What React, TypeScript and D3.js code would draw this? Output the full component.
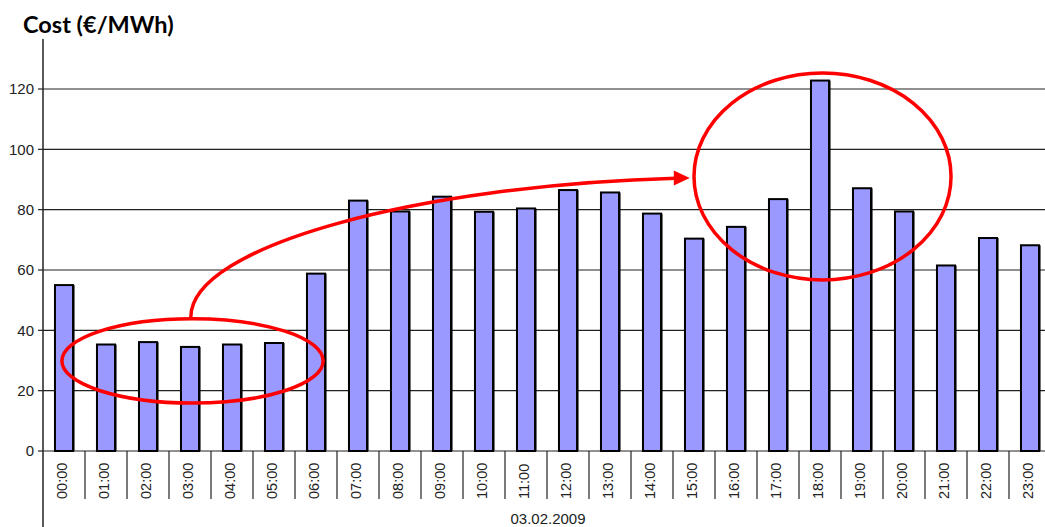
import React from "react";
import * as d3 from "d3";

const hours = [
  "00:00", "01:00", "02:00", "03:00", "04:00", "05:00", "06:00", "07:00",
  "08:00", "09:00", "10:00", "11:00", "12:00", "13:00", "14:00", "15:00",
  "16:00", "17:00", "18:00", "19:00", "20:00", "21:00", "22:00", "23:00",
];
const cost = [
  55.0, 35.3, 36.1, 34.5, 35.3, 35.8, 58.8, 83.0, 79.4, 84.3, 79.3, 80.4,
  86.5, 85.7, 78.7, 70.4, 74.3, 83.5, 122.8, 87.1, 79.4, 61.5, 70.6, 68.2,
];
const yTicks = [0, 20, 40, 60, 80, 100, 120];
const title = "Cost (€/MWh)";
const dateLabel = "03.02.2009";

// annotation shapes, in category-index / value units
const lowEllipse = { x0: 0.45, x1: 6.67, v0: 15.9, v1: 43.8 };
const peakEllipse = { x0: 15.5, x1: 21.62, v0: 56.7, v1: 125.3 };
const arrowPts = [
  [3.52, 44.4],
  [3.52, 68.2],
  [9.0, 88.1],
  [15.07, 90.4],
];
const arrowTip = [15.4, 90.5];

const W = 1045;
const H = 527;
const left = 43;
const right = 1051;
const zeroY = 451;
const topY = 89;

const App = () => {
  const x = d3.scaleBand().domain(hours).range([left, right]).paddingInner(0.57).paddingOuter(0.285);
  const xi = d3.scaleLinear().domain([0, 24]).range([left, right]);
  const y = d3.scaleLinear().domain([0, 120]).range([zeroY, topY]);

  const ell = (e: typeof lowEllipse) => ({
    cx: (xi(e.x0) + xi(e.x1)) / 2,
    cy: (y(e.v0) + y(e.v1)) / 2,
    rx: Math.abs(xi(e.x1) - xi(e.x0)) / 2,
    ry: Math.abs(y(e.v0) - y(e.v1)) / 2,
  });
  const e1 = ell(lowEllipse);
  const e2 = ell(peakEllipse);

  const p = d3.path();
  const pts = arrowPts.map(([a, b]) => [xi(a), y(b)]);
  p.moveTo(pts[0][0], pts[0][1]);
  p.bezierCurveTo(pts[1][0], pts[1][1], pts[2][0], pts[2][1], pts[3][0], pts[3][1]);
  const tx = xi(arrowTip[0]);
  const ty = y(arrowTip[1]);
  const head = `M${tx},${ty} L${tx - 16},${ty - 7.5} L${tx - 16},${ty + 7.5} Z`;

  const tickFont = "'Liberation Sans', Arial, sans-serif";

  return (
    <svg width={W} height={H} style={{ position: "absolute", left: 0, top: 0, background: "#fff" }}>
      <rect width={W} height={H} fill="#fff" />
      <text x={23} y={33} fontFamily="Lato, 'Open Sans', sans-serif" fontWeight={700} fontSize={23.5} fill="#000">
        {title}
      </text>

      {/* gridlines */}
      {yTicks.map((t) => (
        <g key={t}>
          <line x1={left} x2={W} y1={y(t)} y2={y(t)} stroke="#222" strokeWidth={1.2} />
          <line x1={left - 5} x2={left} y1={y(t)} y2={y(t)} stroke="#222" strokeWidth={1.2} />
          <text x={34} y={y(t)} dy="0.36em" textAnchor="end" fontFamily={tickFont} fontSize={15} fill="#222">
            {t}
          </text>
        </g>
      ))}

      {/* y axis */}
      <line x1={left} x2={left} y1={39} y2={H} stroke="#222" strokeWidth={1.5} />

      {/* category separators */}
      {hours.map((h, i) => (
        <line key={h} x1={xi(i + 1)} x2={xi(i + 1)} y1={zeroY} y2={499} stroke="#222" strokeWidth={1.2} />
      ))}

      {/* bars */}
      {hours.map((h, i) => {
        const bx = x(h)!;
        const by = y(cost[i]);
        const bw = x.bandwidth();
        return (
          <g key={h}>
            <rect x={bx + 1.5} y={by} width={bw} height={zeroY - by} fill="#000" />
            <rect x={bx} y={by} width={bw} height={zeroY - by} fill="#9999ff" stroke="#000" strokeWidth={2} />
          </g>
        );
      })}

      {/* x labels */}
      {hours.map((h) => {
        const cx = x(h)! + x.bandwidth() / 2 - 2;
        return (
          <text
            key={h}
            transform={`translate(${cx},499) rotate(-90)`}
            dy="0.36em"
            textAnchor="start"
            fontFamily={tickFont}
            fontSize={14.5}
            fill="#222"
          >
            {h}
          </text>
        );
      })}

      <text x={xi(12) + 1} y={524} textAnchor="middle" fontFamily={tickFont} fontSize={15} fill="#222">
        {dateLabel}
      </text>

      {/* annotations */}
      <ellipse cx={e1.cx} cy={e1.cy} rx={e1.rx} ry={e1.ry} fill="none" stroke="#ff0000" strokeWidth={3.5} />
      <ellipse cx={e2.cx} cy={e2.cy} rx={e2.rx} ry={e2.ry} fill="none" stroke="#ff0000" strokeWidth={3.5} />
      <path d={p.toString()} fill="none" stroke="#ff0000" strokeWidth={3.5} />
      <path d={head} fill="#ff0000" />
    </svg>
  );
};

export default App;
